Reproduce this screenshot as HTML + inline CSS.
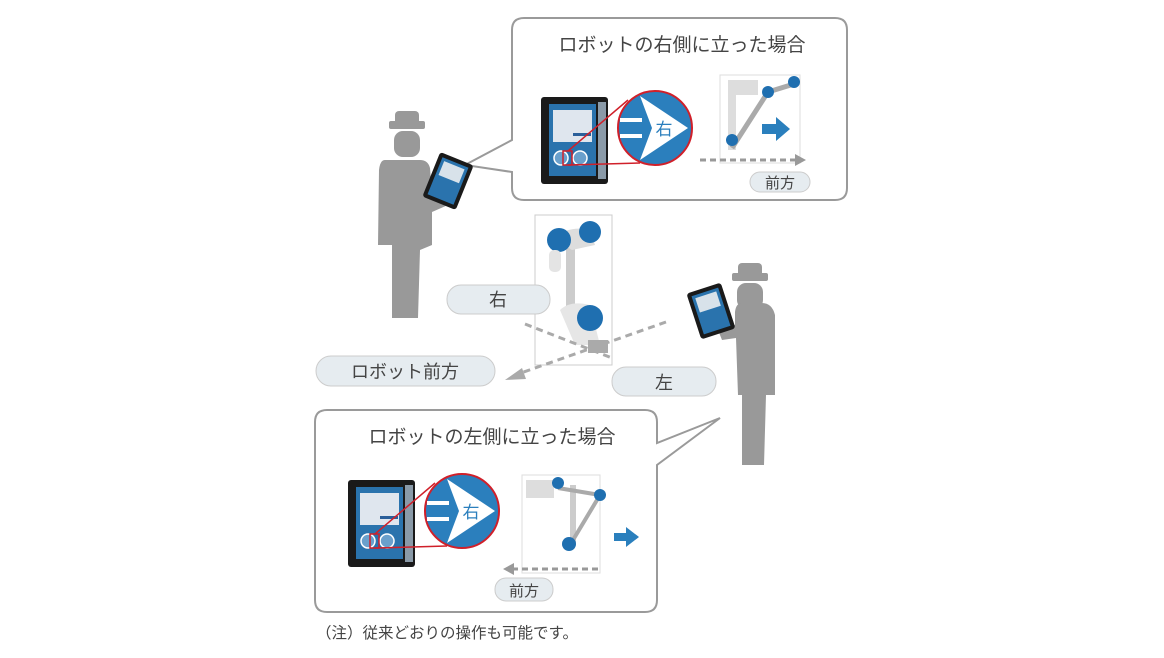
<!DOCTYPE html>
<html><head><meta charset="utf-8"><style>
html,body{margin:0;padding:0;background:#fff;}
svg{display:block;}
text{font-family:"Liberation Sans","Noto Sans CJK JP",sans-serif;}
</style></head><body>
<svg width="1164" height="658" viewBox="0 0 1164 658" xmlns="http://www.w3.org/2000/svg">
<defs>
<g id="tab">
  <rect x="541" y="97" width="67" height="87" rx="3" fill="#1a1a1a"/>
  <rect x="598" y="102" width="8" height="77" fill="#8a9aa8"/>
  <rect x="549" y="104" width="47" height="72" fill="#2a73ad"/>
  <rect x="553" y="110" width="39" height="32" fill="#dfe6ee"/>
  <rect x="573" y="133" width="18" height="3" fill="#2a5f9a"/>
  <circle cx="561" cy="158" r="7" fill="#6aa0cc" stroke="#fff" stroke-width="1.5"/>
  <circle cx="580" cy="158" r="7" fill="#6aa0cc" stroke="#fff" stroke-width="1.5"/>
  <rect x="563" y="151" width="9" height="14" fill="none" stroke="#d0202a" stroke-width="1.5"/>
  <line x1="568" y1="151" x2="628" y2="100" stroke="#d0202a" stroke-width="1.5"/>
  <line x1="568" y1="165" x2="640" y2="163" stroke="#d0202a" stroke-width="1.5"/>
  <circle cx="655" cy="128" r="37" fill="#2b7fbd" stroke="#d0202a" stroke-width="2"/>
  <rect x="620" y="118" width="22" height="4" fill="#fff"/>
  <rect x="620" y="134" width="22" height="4" fill="#fff"/>
  <path d="M640 96 L688 128 L640 160 L652 128 Z" fill="#fff"/>
  <text x="664" y="135" font-size="17" fill="#2b7fbd" text-anchor="middle">右</text>
</g>
<g id="man">
  <rect x="-18" y="-12" width="36" height="8" rx="2" fill="#999"/>
  <rect x="-12" y="-22" width="24" height="14" rx="4" fill="#999"/>
  <rect x="-13" y="-2" width="26" height="26" rx="9" fill="#999"/>
</g>
</defs>

<path d="M524 18 H835 Q847 18 847 30 V188 Q847 200 835 200 H524 Q512 200 512 188 V172 L465 165 L512 140 V30 Q512 18 524 18 Z" fill="#fff" stroke="#9a9a9a" stroke-width="2"/>
<text x="682" y="51" font-size="19" fill="#444" text-anchor="middle">ロボットの右側に立った場合</text>
<use href="#tab"/>
<rect x="720" y="75" width="80" height="88" fill="#fff" stroke="#ddd"/>
<path d="M728 80 h30 v15 h-22 v55 h-8 z" fill="#ddd"/>
<line x1="768" y1="92" x2="732" y2="148" stroke="#aaa" stroke-width="5"/>
<line x1="768" y1="92" x2="794" y2="84" stroke="#aaa" stroke-width="5"/>
<circle cx="768" cy="92" r="6" fill="#1f6fb0"/><circle cx="794" cy="82" r="6" fill="#1f6fb0"/><circle cx="732" cy="140" r="6" fill="#1f6fb0"/>
<path d="M762 124 h14 v-7 l14 12 l-14 12 v-7 h-14 z" fill="#2a7fbd"/>
<line x1="700" y1="160" x2="796" y2="160" stroke="#999" stroke-width="3" stroke-dasharray="6,4"/>
<path d="M795 154 L806 160 L795 166 Z" fill="#999"/>
<rect x="750" y="172" width="60" height="20" rx="10" fill="#e6ecf0" stroke="#ccc"/>
<text x="780" y="188" font-size="15" fill="#444" text-anchor="middle">前方</text>

<use href="#man" x="407" y="133"/>
<path d="M385 160 Q380 160 379 170 L378 245 L392 245 L392 318 L418 318 L420 250 L432 245 L432 212 L448 205 L445 190 L432 193 L430 168 Q428 160 420 160 Z" fill="#999"/>
<g transform="rotate(22 448 181)"><rect x="430" y="157" width="36" height="48" rx="3" fill="#1a1a1a"/><rect x="434" y="161" width="28" height="40" fill="#2a73ad"/><rect x="437" y="164" width="22" height="15" fill="#d8e2ea"/></g>

<rect x="535" y="215" width="77" height="150" fill="#fff" stroke="#ccc"/>
<rect x="566" y="240" width="9" height="80" fill="#ccc"/>
<path d="M552 238 Q570 225 590 230 L595 245 L572 250 Z" fill="#ddd"/>
<circle cx="559" cy="240" r="12" fill="#1f6fb0"/><circle cx="590" cy="232" r="11" fill="#1f6fb0"/>
<rect x="549" y="250" width="12" height="22" rx="5" fill="#e4e4e4"/>
<path d="M560 310 Q570 300 590 305 L600 345 L575 345 Z" fill="#e6e6e6"/>
<circle cx="590" cy="318" r="13" fill="#1f6fb0"/>
<rect x="588" y="340" width="20" height="13" fill="#aaa"/>
<line x1="525" y1="324" x2="612" y2="358" stroke="#aaa" stroke-width="3" stroke-dasharray="7,5"/>
<line x1="666" y1="322" x2="518" y2="374" stroke="#aaa" stroke-width="3" stroke-dasharray="7,5"/>
<path d="M505 380 L522 368 L526 379 Z" fill="#aaa"/>
<rect x="447" y="285" width="103" height="29" rx="14" fill="#e6ecf0" stroke="#ccc"/>
<text x="498" y="306" font-size="18" fill="#444" text-anchor="middle">右</text>
<rect x="316" y="356" width="179" height="30" rx="15" fill="#e6ecf0" stroke="#ccc"/>
<text x="405" y="378" font-size="18" fill="#444" text-anchor="middle">ロボット前方</text>
<rect x="612" y="367" width="104" height="29" rx="14" fill="#e6ecf0" stroke="#ccc"/>
<text x="664" y="389" font-size="18" fill="#444" text-anchor="middle">左</text>

<use href="#man" x="750" y="285"/>
<path d="M742 303 Q736 303 735 312 L735 325 L718 330 L722 340 L736 338 L738 395 L742 395 L742 465 L764 465 L766 395 L775 395 L775 315 Q772 303 762 303 Z" fill="#999"/>
<g transform="rotate(-18 711 311)"><rect x="693" y="287" width="36" height="48" rx="3" fill="#1a1a1a"/><rect x="697" y="291" width="28" height="40" fill="#2a73ad"/><rect x="700" y="294" width="22" height="15" fill="#d8e2ea"/></g>

<path d="M327 410 H645 Q657 410 657 422 V443 L720 418 L657 465 V600 Q657 612 645 612 H327 Q315 612 315 600 V422 Q315 410 327 410 Z" fill="#fff" stroke="#9a9a9a" stroke-width="2"/>
<text x="492" y="443" font-size="19" fill="#444" text-anchor="middle">ロボットの左側に立った場合</text>
<use href="#tab" transform="translate(-193 383)"/>
<rect x="522" y="475" width="78" height="98" fill="#fff" stroke="#ddd"/>
<path d="M526 480 h28 v18 h-28 z" fill="#ddd"/>
<rect x="570" y="485" width="6" height="60" fill="#ccc"/>
<line x1="558" y1="488" x2="600" y2="495" stroke="#aaa" stroke-width="4"/>
<line x1="600" y1="495" x2="570" y2="545" stroke="#aaa" stroke-width="4"/>
<circle cx="558" cy="483" r="6" fill="#1f6fb0"/><circle cx="600" cy="495" r="6" fill="#1f6fb0"/><circle cx="569" cy="544" r="7" fill="#1f6fb0"/>
<path d="M614 533 h12 v-6 l13 10 l-13 10 v-6 h-12 z" fill="#2a7fbd"/>
<line x1="512" y1="569" x2="600" y2="569" stroke="#999" stroke-width="3" stroke-dasharray="6,4"/>
<path d="M514 563 L503 569 L514 575 Z" fill="#999"/>
<rect x="495" y="578" width="58" height="23" rx="11" fill="#e6ecf0" stroke="#ccc"/>
<text x="524" y="596" font-size="15" fill="#444" text-anchor="middle">前方</text>

<text x="316" y="638" font-size="15.5" fill="#444">（注）従来どおりの操作も可能です。</text>
</svg>
</body></html>
